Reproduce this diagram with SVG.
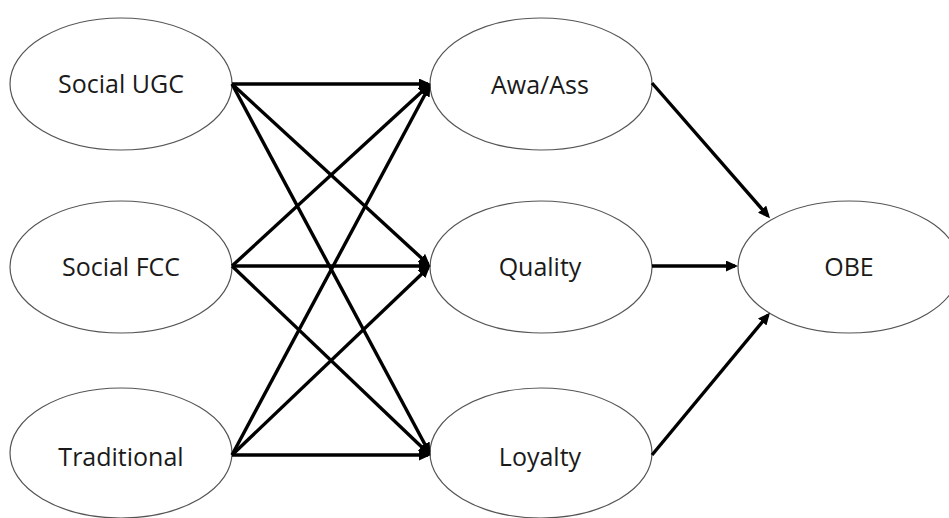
<svg xmlns="http://www.w3.org/2000/svg" width="949" height="518" viewBox="0 0 949 518">
  <defs>
    <marker id="arrow" markerUnits="userSpaceOnUse" markerWidth="13" markerHeight="11" refX="9" refY="5.5" orient="auto">
      <path d="M0,0 L12,5.5 L0,11 Z" fill="#000"/>
    </marker>
    <style>
      .node ellipse { fill: #fff; stroke: #555; stroke-width: 1.2; }
      .node text { font-family: "Open Sans", "Noto Sans", "Liberation Sans", sans-serif; font-size: 25px; fill: #1a1a1a; text-anchor: middle; }
      .edges line { stroke: #000; stroke-width: 3.4; marker-end: url(#arrow); }
    </style>
  </defs>
  <rect width="949" height="518" fill="#fff"/>

  <!-- left column -->
  <g id="social-ugc" class="node">
    <ellipse cx="121" cy="84" rx="111" ry="66"/>
    <text x="121" y="93">Social UGC</text>
  </g>
  <g id="social-fcc" class="node">
    <ellipse cx="121" cy="267" rx="111" ry="66"/>
    <text x="121" y="276">Social FCC</text>
  </g>
  <g id="traditional" class="node">
    <ellipse cx="121" cy="453" rx="111" ry="65"/>
    <text x="121" y="466">Traditional</text>
  </g>

  <!-- middle column -->
  <g id="awa-ass" class="node">
    <ellipse cx="541" cy="84" rx="111" ry="66"/>
    <text x="540" y="94">Awa/Ass</text>
  </g>
  <g id="quality" class="node">
    <ellipse cx="541" cy="267" rx="111" ry="66"/>
    <text x="540" y="276">Quality</text>
  </g>
  <g id="loyalty" class="node">
    <ellipse cx="541" cy="453" rx="111" ry="65"/>
    <text x="540" y="466">Loyalty</text>
  </g>

  <!-- outcome -->
  <g id="obe" class="node">
    <ellipse cx="849" cy="267" rx="111" ry="66"/>
    <text x="849" y="276">OBE</text>
  </g>

  <!-- paths -->
  <g id="connectors" class="edges">
    <line x1="232" y1="84" x2="428" y2="84"/>
    <line x1="232" y1="84" x2="428" y2="264"/>
    <line x1="232" y1="84" x2="429" y2="452"/>

    <line x1="232" y1="266" x2="428" y2="86"/>
    <line x1="232" y1="266" x2="428" y2="266"/>
    <line x1="232" y1="266" x2="428" y2="453"/>

    <line x1="232" y1="455" x2="429" y2="87"/>
    <line x1="232" y1="455" x2="428" y2="268"/>
    <line x1="232" y1="455" x2="428" y2="455"/>

    <line x1="652" y1="83" x2="768" y2="216"/>
    <line x1="652" y1="266" x2="735" y2="266"/>
    <line x1="652" y1="455" x2="768" y2="315"/>
  </g>
</svg>
